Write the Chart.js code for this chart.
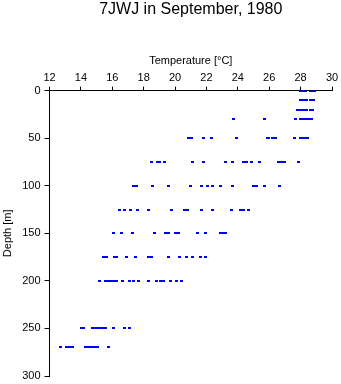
<!DOCTYPE html>
<html>
<head>
<meta charset="utf-8">
<script src="https://cdn.jsdelivr.net/npm/chart.js@4/dist/chart.umd.min.js"></script>
<style>
  html, body { margin: 0; padding: 0; background: #fff; }
  #wrap { width: 341px; height: 384px; }
</style>
</head>
<body>
<div id="wrap"><canvas id="c" width="341" height="384"></canvas></div>
<script>
// Sampling depths [m]
const depths = [0, 10, 20, 30, 50, 75, 100, 125, 150, 175, 200, 250, 270];

// Temperatures [°C] observed at each depth (same order as depths)
const t000 = [28.0, 28.16, 28.32, 28.64, 28.8, 28.89];
const t010 = [28.02, 28.2, 28.4, 28.6, 28.8, 28.85];
const t020 = [27.8, 28.0, 28.2, 28.4, 28.6, 28.75];
const t030 = [23.74, 25.73, 27.65, 28.0, 28.2, 28.4, 28.55, 28.7];
const t050 = [20.88, 21.07, 21.78, 22.29, 23.89, 25.86, 25.94, 26.2, 26.39, 27.59, 27.97, 28.16, 28.35, 28.45];
const t075 = [18.5, 18.88, 19.0, 19.32, 21.09, 21.79, 23.19, 23.69, 24.33, 24.52, 24.9, 25.4, 26.6, 26.8, 26.99, 27.87];
const t100 = [17.35, 17.54, 18.56, 19.57, 20.97, 21.66, 22.08, 22.39, 22.87, 23.69, 25.02, 25.21, 25.69, 26.67];
const t125 = [16.47, 16.78, 17.16, 17.61, 18.31, 19.76, 20.59, 20.78, 21.66, 22.39, 23.57, 24.2, 24.33, 24.71];
const t150 = [16.09, 16.59, 17.29, 18.69, 19.38, 19.57, 20.02, 20.24, 21.41, 21.92, 22.87, 23.06, 23.19];
const t175 = [15.45, 15.64, 16.15, 16.28, 16.88, 17.48, 18.31, 18.5, 19.57, 20.27, 20.75, 21.09, 21.6, 21.92];
const t200 = [15.2, 15.58, 15.77, 15.96, 16.15, 16.28, 16.66, 17.1, 17.35, 17.67, 18.31, 18.81, 19.07, 19.26, 19.7, 20.08, 20.4];
const t250 = [14.06, 14.19, 14.76, 14.92, 15.11, 15.3, 15.49, 15.58, 16.09, 16.78, 17.1];
const t270 = [12.67, 13.11, 13.27, 13.46, 14.31, 14.47, 14.66, 14.85, 15.04, 15.74];

const tempsByDepth = [t000, t010, t020, t030, t050, t075, t100, t125, t150, t175, t200, t250, t270];

// Axis tick values
const tempTicks = [12, 14, 16, 18, 20, 22, 24, 26, 28, 30];
const depthTicks = [0, 50, 100, 150, 200, 250, 300];

// Build (x, y) points
const points = [];
depths.forEach((d, i) => {
  tempsByDepth[i].forEach(t => points.push({ x: t, y: d }));
});

// Small blue dash used as the marker
const marker = document.createElement('canvas');
marker.width = 3; marker.height = 2;
const mctx = marker.getContext('2d');
mctx.fillStyle = '#0000ff';
mctx.fillRect(0, 0, 3, 2);

const FONT = "'Liberation Sans', Arial, Helvetica, sans-serif";

new Chart(document.getElementById('c'), {
  type: 'scatter',
  data: {
    datasets: [{
      data: points,
      pointStyle: marker,
      pointRadius: 2,
      pointHoverRadius: 2,
      backgroundColor: '#0000ff',
      borderColor: '#0000ff'
    }]
  },
  options: {
    responsive: false,
    animation: false,
    events: [],
    layout: { padding: { left: 1, right: 9, top: 0, bottom: 8 } },
    plugins: {
      legend: { display: false },
      tooltip: { enabled: false },
      title: {
        display: true,
        text: '7JWJ in September, 1980',
        fullSize: false,
        color: '#000',
        font: { family: FONT, size: 16, weight: 'normal' },
        padding: { top: 0, bottom: 35 }
      }
    },
    scales: {
      x: {
        type: 'linear',
        position: 'top',
        min: 12,
        max: 30,
        afterBuildTicks: axis => { axis.ticks = tempTicks.map(v => ({ value: v })); },
        ticks: {
          color: '#000',
          font: { family: FONT, size: 11 },
          padding: 2,
          maxRotation: 0
        },
        grid: {
          display: true,
          drawOnChartArea: false,
          drawTicks: true,
          tickLength: 4,
          color: '#000'
        },
        border: { display: true, color: '#000', width: 1 },
        title: {
          display: true,
          text: 'Temperature [°C]',
          color: '#000',
          font: { family: FONT, size: 11 },
          padding: { top: 0, bottom: 2 }
        }
      },
      y: {
        type: 'linear',
        reverse: true,
        min: 0,
        max: 300,
        afterBuildTicks: axis => { axis.ticks = depthTicks.map(v => ({ value: v })); },
        // let the bottom label overhang into the page margin
        afterFit: scale => { scale.paddingBottom = 0; },
        ticks: {
          color: '#000',
          font: { family: FONT, size: 11 },
          padding: 4
        },
        grid: {
          display: true,
          drawOnChartArea: false,
          drawTicks: true,
          tickLength: 5,
          color: '#000'
        },
        border: { display: true, color: '#000', width: 1 },
        title: {
          display: true,
          text: 'Depth [m]',
          color: '#000',
          font: { family: FONT, size: 11 },
          padding: { top: 0, bottom: 4 }
        }
      }
    }
  }
});
</script>
</body>
</html>
